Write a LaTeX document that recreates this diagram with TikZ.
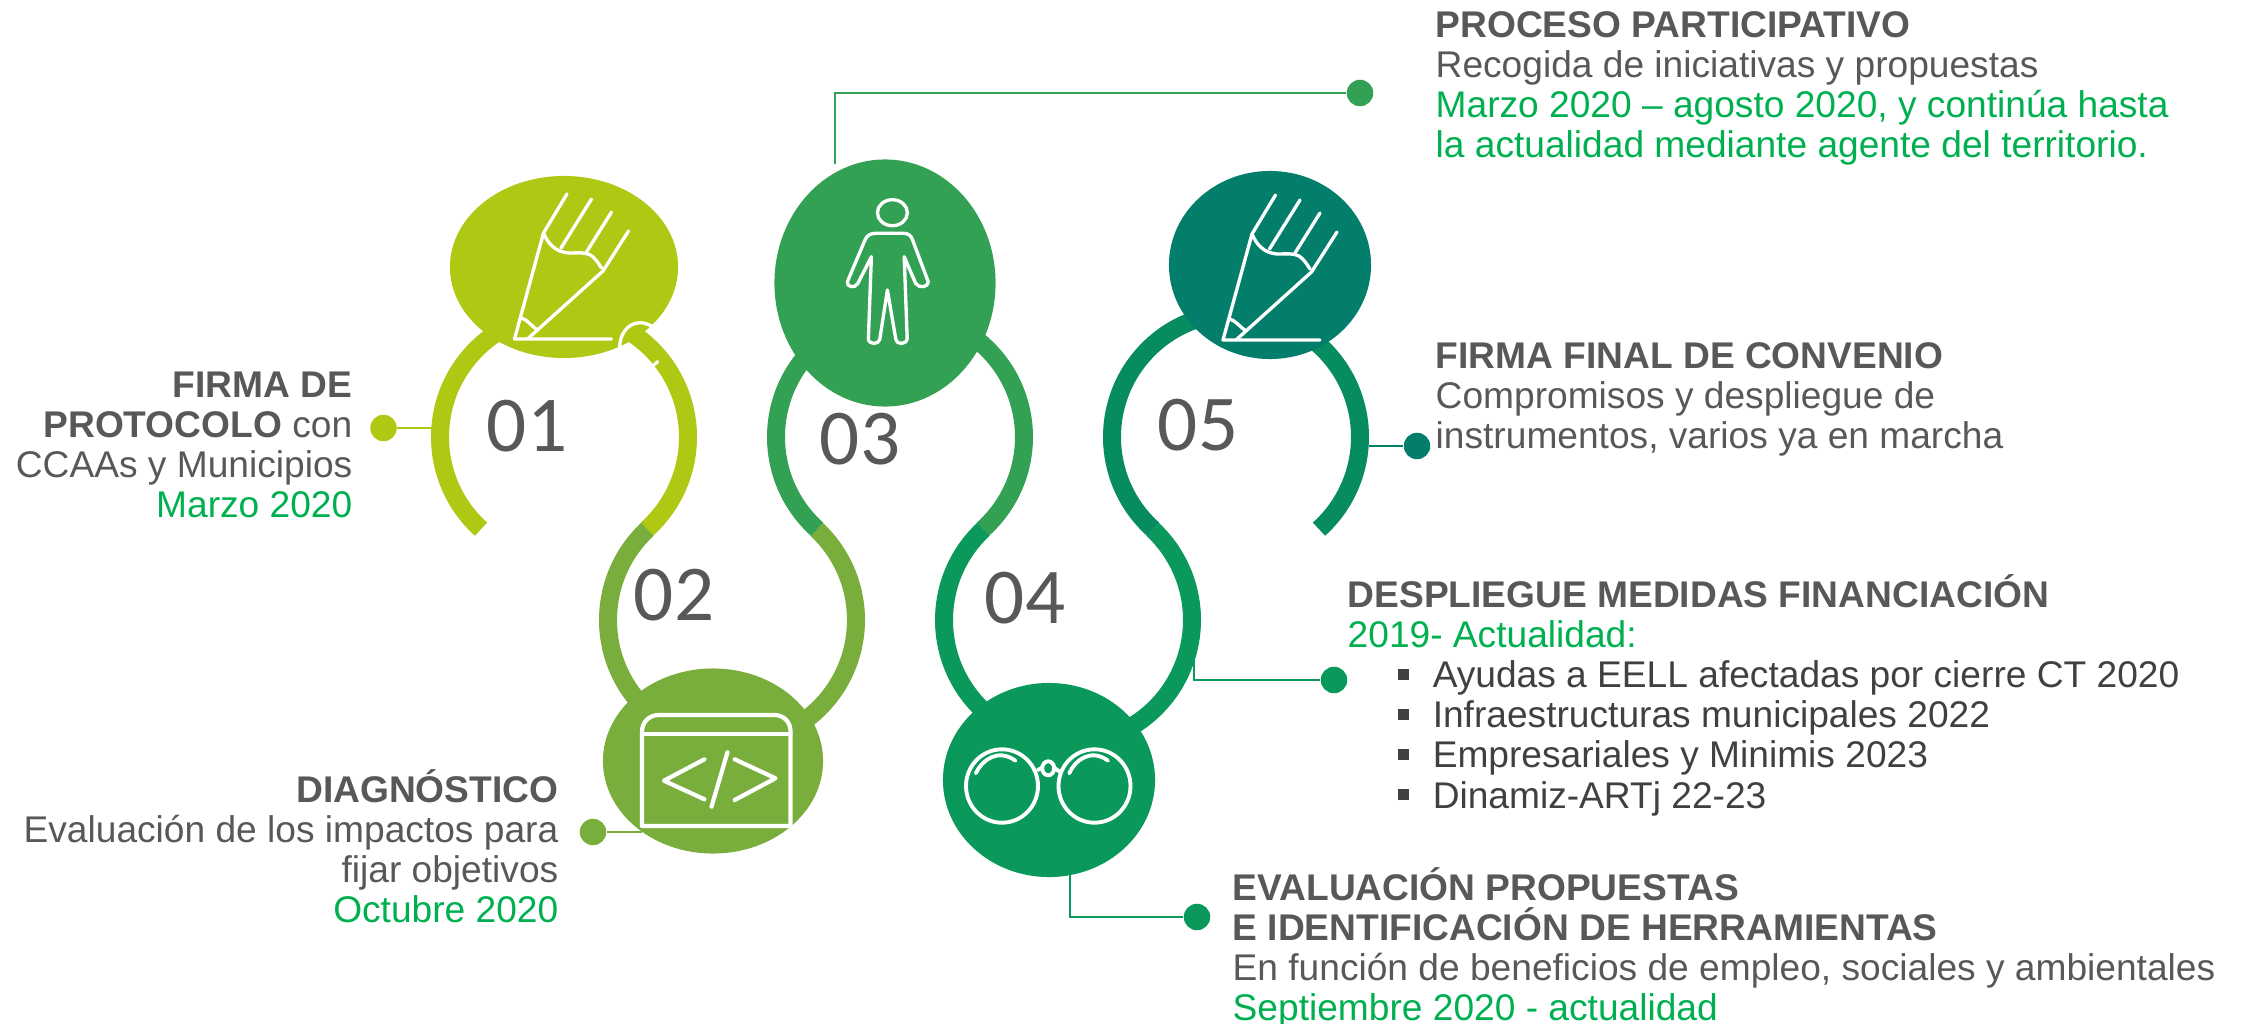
\documentclass[tikz,border=0pt]{standalone}
\usepackage{fontspec}
\setmainfont{Liberation Sans}
\newfontfamily\numfont{Carlito}
\usetikzlibrary{shapes.geometric}

\definecolor{colA}{HTML}{AEC813}
\definecolor{colB}{HTML}{7AAE3C}
\definecolor{colC}{HTML}{33A153}
\definecolor{colD}{HTML}{0A985B}
\definecolor{colE}{HTML}{078B60}
\definecolor{colF}{HTML}{037E6A}
\definecolor{txtgray}{HTML}{58585A}
\definecolor{txtdark}{HTML}{404040}
\definecolor{txtgreen}{HTML}{00B050}

\newcommand{\hl}[1]{\textcolor{txtgreen}{#1}}
\newcommand{\itm}[1]{\textcolor{txtdark}{\hspace*{0.5cm}\rule[0.08cm]{0.11cm}{0.11cm}\hspace{0.24cm}#1}}

\tikzset{
    ringline/.style={line width=0.18cm},
    leader/.style={line width=0.6pt},
    bubble/.style n args={3}{ellipse, fill=#1, draw=none, inner sep=0pt, minimum width=#2cm, minimum height=#3cm},
    dotnode/.style={circle, fill=#1, inner sep=0pt, minimum size=0.265cm},
    numlbl/.style={font=\numfont\fontsize{22.5}{24}\selectfont, text=txtgray},
    txtblock/.style={font=\fontsize{10.56}{11.4}\selectfont, text=txtgray, inner sep=0pt},
    iconline/.style={draw=white, line width=0.95pt, line cap=round, line join=round},
    pencilicon/.pic={
        \draw[iconline] (97,0) -- (0,0) -- (29,-106) -- (52.5,-145);
        \draw[iconline] (13,0) -- (88.5,-68) -- (114,-108);
        \draw[iconline] (46.5,-91) -- (77,-140);
        \draw[iconline] (72,-87) -- (97,-127);
        \draw[iconline] (29,-106) .. controls (34,-94) and (42,-87) .. (54,-86) .. controls (64,-86) and (70,-87) .. (76,-84) .. controls (81,-81) and (85,-74) .. (87,-71);
        \draw[iconline] (7,-21) .. controls (13,-19) and (17,-13) .. (23,-9);
    }
}

\begin{document}
\begin{tikzpicture}[x=0.01cm,y=-0.01cm]
    \useasboundingbox (0,0) rectangle (2244,1024);

    % Rings
    \draw[ringline, colA] (564,437) ++(132:124) arc[start angle=132, end angle=408, radius=124];
    \draw[ringline, colB] (732,620) ++(227:124) arc[start angle=227, end angle=-47, radius=124];
    \draw[ringline, colC] (900,437) ++(132:124) arc[start angle=132, end angle=408, radius=124];
    \draw[ringline, colD] (1068,620) ++(227:124) arc[start angle=227, end angle=-47, radius=124];
    \draw[ringline, colE] (1236,437) ++(132:124) arc[start angle=132, end angle=408, radius=124];

    % Bubbles
    \node[bubble={colA}{2.28}{1.82}] (bubbleA) at (564,267) {};
    \node[bubble={colB}{2.20}{1.85}] (bubbleB) at (713,761) {};
    \node[bubble={colC}{2.21}{2.47}] (bubbleC) at (885,283) {};
    \node[bubble={colD}{2.12}{1.94}] (bubbleD) at (1049,780) {};
    \node[bubble={colF}{2.02}{1.88}] (bubbleE) at (1270,265) {};

    % Icons
    \pic at (514.5,339) {pencilicon};
    \pic at (1223,340) {pencilicon};
    \draw[iconline] (619.7,346.7) .. controls (620,335) and (627,323) .. (640,322.7) .. controls (645,322.7) and (650,325) .. (652.5,326.7);
    \draw[iconline] (653.8,365) -- (657.6,361.7);

    % Person
    \draw[iconline] (892.4,212.7) ellipse (15 and 13);
    \draw[iconline] (865,240) .. controls (867,235) and (871,233.3) .. (876,233.3) -- (903,233.3)
        .. controls (908,233.3) and (911,235) .. (912.6,240) -- (928.2,281.7)
        .. controls (929,287) and (919,289) .. (915.6,283.3) -- (904.2,256.7) -- (907.2,338.3)
        .. controls (907,345) and (896,345) .. (895.8,339.3) -- (887.4,290) -- (879.8,339.3)
        .. controls (879,345) and (868,345) .. (868.4,338.3) -- (871.4,256.7) -- (857.9,283.3)
        .. controls (855,289) and (846,287) .. (847.4,281.7) -- cycle;

    % Code window
    \draw[iconline, line width=1.2pt] (642,826) -- (642,732) .. controls (642,722) and (649,715) .. (659,715) -- (774,715) .. controls (784,715) and (790.6,722) .. (790.6,732) -- (790.6,826) -- cycle;
    \draw[iconline, line width=1.2pt] (642,734) -- (790.6,734);
    \draw[iconline, line width=1.2pt] (704.4,759.3) -- (664,780.7) -- (704.4,799.3);
    \draw[iconline, line width=1.2pt] (727.5,752.3) -- (711.5,806.7);
    \draw[iconline, line width=1.2pt] (734.7,759.3) -- (775.5,778.3) -- (734.7,800);

    % Glasses
    \draw[iconline, line width=1.1pt] (1002,786) ellipse (36 and 36.7);
    \draw[iconline, line width=1.1pt] (1094.5,786) ellipse (36 and 36.7);
    \draw[iconline, line width=1.1pt] (1048.2,768.3) ellipse (6 and 7);
    \draw[iconline, line width=1.1pt] (1037.7,770) -- (1042.2,767.7);
    \draw[iconline, line width=1.1pt] (1054.2,767.7) -- (1059.6,771.7);
    \draw[iconline, line width=1.1pt] (975.8,773.3) .. controls (982,760) and (998,748) .. (1015.4,760.7);
    \draw[iconline, line width=1.1pt] (1069.3,773.3) .. controls (1075,760) and (1091,748) .. (1108,760.7);

    % Numbers
    \node[numlbl] (numA) at (527,426) {01};
    \node[numlbl] (numB) at (674,595) {02};
    \node[numlbl] (numC) at (860,439) {03};
    \node[numlbl] (numD) at (1025,598) {04};
    \node[numlbl] (numE) at (1198,425) {05};

    % Leaders
    \node[dotnode=colA] (dotA) at (383.5,428) {};
    \node[dotnode=colB] (dotB) at (593,832) {};
    \node[dotnode=colC] (dotC) at (1360,93) {};
    \node[dotnode=colD] (dotD) at (1334,680) {};
    \node[dotnode=colD] (dotE) at (1197,917) {};
    \node[dotnode=colF] (dotF) at (1417,446) {};
    \coordinate (endA) at (432,428);
    \coordinate (endB) at (642,832);
    \coordinate (endC) at (835,164);
    \coordinate (endD) at (1194,657);
    \coordinate (endE) at (1070,875);
    \coordinate (endF) at (1369,446);
    \draw[leader, colA] (dotA) -- (endA);
    \draw[leader, colB] (dotB) -- (endB);
    \draw[leader, colC] (dotC) -| (endC);
    \draw[leader, colD] (dotD) -| (endD);
    \draw[leader, colD] (dotE) -| (endE);
    \draw[leader, colF] (dotF) -- (endF);

    % Labels
    \node[txtblock, align=right, anchor=north east] (txtA) at (353,371) {\textbf{FIRMA DE}\\\textbf{PROTOCOLO} con\\CCAAs y Municipios\\\hl{Marzo 2020}};
    \node[txtblock, align=right, anchor=north east] (txtB) at (559,769) {\textbf{DIAGNÓSTICO}\\Evaluación de los impactos para\\fijar objetivos\\\hl{Octubre 2020}};
    \node[txtblock, align=left, anchor=north west] (txtC) at (1435,11) {\textbf{PROCESO PARTICIPATIVO}\\Recogida de iniciativas y propuestas\\\hl{Marzo 2020 – agosto 2020, y continúa hasta}\\\hl{la actualidad mediante agente del territorio.}};
    \node[txtblock, align=left, anchor=north west] (txtD) at (1435,342) {\textbf{FIRMA FINAL DE CONVENIO}\\Compromisos y despliegue de\\instrumentos, varios ya en marcha};
    \node[txtblock, align=left, anchor=north west] (txtE) at (1347,574) {\textbf{DESPLIEGUE MEDIDAS FINANCIACIÓN}\\\hl{2019- Actualidad:}\\\itm{Ayudas a EELL afectadas por cierre CT 2020}\\\itm{Infraestructuras municipales 2022}\\\itm{Empresariales y Minimis 2023}\\\itm{Dinamiz-ARTj 22-23}};
    \node[txtblock, align=left, anchor=north west] (txtF) at (1232,867) {\textbf{EVALUACIÓN PROPUESTAS}\\\textbf{E IDENTIFICACIÓN DE HERRAMIENTAS}\\En función de beneficios de empleo, sociales y ambientales\\\hl{Septiembre 2020 - actualidad}};
\end{tikzpicture}
\end{document}
